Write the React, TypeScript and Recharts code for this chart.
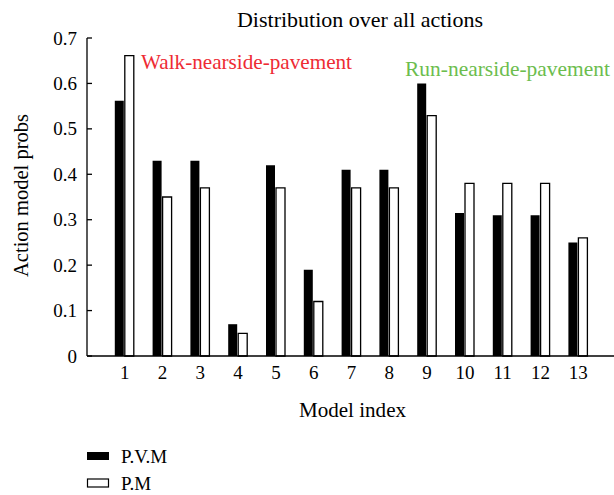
import React from "react";
import { BarChart, Bar, XAxis, YAxis } from "recharts";

const modelIndex = ["1", "2", "3", "4", "5", "6", "7", "8", "9", "10", "11", "12", "13"];
const pvmValues = [0.562, 0.43, 0.43, 0.07, 0.42, 0.19, 0.41, 0.41, 0.6, 0.315, 0.31, 0.31, 0.25];
const pmValues = [0.661, 0.35, 0.37, 0.05, 0.37, 0.12, 0.37, 0.37, 0.529, 0.38, 0.38, 0.38, 0.26];
const yTicks = [0, 0.1, 0.2, 0.3, 0.4, 0.5, 0.6, 0.7];

const data = modelIndex.map((idx, i) => ({ idx, pvm: pvmValues[i], pm: pmValues[i] }));

const FONT = "'Liberation Serif', 'Times New Roman', 'DejaVu Serif', serif";
const fmt = (v: number) => (v === 0 ? "0" : v.toFixed(1));

const txt = { fontFamily: FONT };

const LeftTick = (props: any) => {
  const { x, y, payload } = props;
  return (
    <text x={x} y={y} dy={6.5} textAnchor="end" fontSize={19} style={txt} fill="#000">
      {fmt(payload.value)}
    </text>
  );
};

const BottomTick = (props: any) => {
  const { x, y, payload } = props;
  return (
    <text x={x} y={y} dy={13} textAnchor="middle" fontSize={19} style={txt} fill="#000">
      {payload.value}
    </text>
  );
};

export default function App() {
  return (
    <div style={{ position: "fixed", left: 0, top: 0, width: 614, height: 495, overflow: "hidden", background: "#fff", fontFamily: FONT }}>
      <BarChart
        width={630}
        height={495}
        data={data}
        margin={{ top: 38, right: 14, bottom: 109, left: 0 }}
        barSize={9}
        barGap={1}
        barCategoryGap={0}
      >
        <XAxis
          xAxisId="bottom"
          dataKey="idx"
          orientation="bottom"
          height={30}
          padding={{ left: 18.8, right: 18.8 }}
          tickLine={false}
          tickSize={0}
          tickMargin={10}
          axisLine={{ stroke: "#000", strokeWidth: 1.3 }}
          tick={BottomTick}
          interval={0}
        />
        <XAxis
          xAxisId="top"
          dataKey="idx"
          orientation="top"
          height={0}
          padding={{ left: 18.8, right: 18.8 }}
          tickSize={-5}
          tickLine={{ stroke: "#000", strokeWidth: 1.3 }}
          axisLine={{ stroke: "#000", strokeWidth: 1.3 }}
          tickFormatter={() => ""}
          interval={0}
        />
        <YAxis
          yAxisId="left"
          orientation="left"
          width={87}
          domain={[0, 0.7]}
          ticks={yTicks}
          tickSize={-5}
          tickMargin={15}
          tickLine={{ stroke: "#000", strokeWidth: 1.3 }}
          axisLine={{ stroke: "#000", strokeWidth: 1.3 }}
          tick={LeftTick}
          interval={0}
        />
        <YAxis
          yAxisId="right"
          orientation="right"
          width={0}
          domain={[0, 0.7]}
          ticks={yTicks}
          tickFormatter={() => ""}
          tickSize={-5}
          tickLine={{ stroke: "#000", strokeWidth: 1.3 }}
          axisLine={{ stroke: "#000", strokeWidth: 1.3 }}
          interval={0}
        />
        <Bar xAxisId="bottom" yAxisId="left" dataKey="pvm" name="P.V.M" fill="#000" stroke="#000" strokeWidth={0} isAnimationActive={false} />
        <Bar xAxisId="bottom" yAxisId="left" dataKey="pm" name="P.M" fill="#fff" stroke="#000" strokeWidth={1.3} isAnimationActive={false} />
      </BarChart>
      <svg width={614} height={495} style={{ position: "absolute", left: 0, top: 0, pointerEvents: "none" }}>
        <text x={237} y={27} textLength={246} lengthAdjust="spacingAndGlyphs" fontSize={21} style={txt} fill="#000">Distribution over all actions</text>
        <text x={141} y={69} textLength={211} lengthAdjust="spacingAndGlyphs" fontSize={21} style={txt} fill="#ee2b33">Walk-nearside-pavement</text>
        <text x={405} y={76} textLength={205} lengthAdjust="spacingAndGlyphs" fontSize={21} style={txt} fill="#6cbd4e">Run-nearside-pavement</text>
        <text x={299} y={417} textLength={107} lengthAdjust="spacingAndGlyphs" fontSize={21} style={txt} fill="#000">Model index</text>
        <text x={0} y={0} transform="translate(28,277) rotate(-90)" textLength={163} lengthAdjust="spacingAndGlyphs" fontSize={21} style={txt} fill="#000">Action model probs</text>
        <rect x={87} y={452} width={22} height={8} fill="#000" />
        <text x={121} y={463} fontSize={19} style={txt} fill="#000">P.V.M</text>
        <rect x={87.5} y={479} width={21} height={8} fill="#fff" stroke="#000" strokeWidth={1.2} />
        <text x={121} y={490} fontSize={19} style={txt} fill="#000">P.M</text>
      </svg>
    </div>
  );
}
